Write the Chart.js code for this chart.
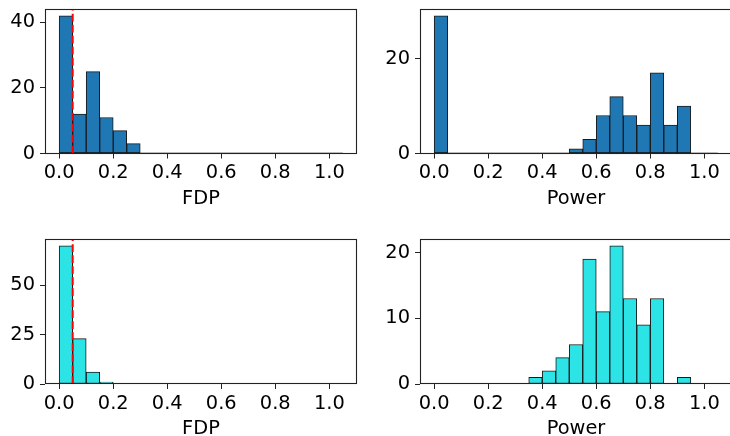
<!DOCTYPE html>
<html>
<head>
<meta charset="utf-8">
<script src="https://cdn.jsdelivr.net/npm/chart.js@4.4.0/dist/chart.umd.min.js"></script>
<style>
  html, body { margin: 0; padding: 0; background: #fff; overflow: hidden; }
  #wrap { position: relative; width: 730px; height: 436px; overflow: hidden; }
  #wrap canvas { position: absolute; left: 0; top: 0; }
</style>
</head>
<body>
<div id="wrap">
  <canvas id="fdpTop" width="734" height="436"></canvas>
  <canvas id="powerTop" width="734" height="436"></canvas>
  <canvas id="fdpBottom" width="734" height="436"></canvas>
  <canvas id="powerBottom" width="734" height="436"></canvas>
</div>
<script>
// histogram bins (left edges), width 0.05
var binLeft = [0, 0.05, 0.1, 0.15, 0.2, 0.25, 0.3, 0.35, 0.4, 0.45, 0.5,
               0.55, 0.6, 0.65, 0.7, 0.75, 0.8, 0.85, 0.9, 0.95, 1.0];
var binWidth = 0.05;
var xTicks = [0, 0.2, 0.4, 0.6, 0.8, 1.0];
var fdpLevel = 0.05;

// counts per bin
var fdpTopCounts      = [42, 12, 25, 11, 7, 3, 0, 0, 0, 0, 0, 0, 0, 0, 0, 0, 0, 0, 0, 0, 0];
var powerTopCounts    = [29, 0, 0, 0, 0, 0, 0, 0, 0, 0, 1, 3, 8, 12, 8, 6, 17, 6, 10, 0, 0];
var fdpBottomCounts   = [70, 23, 6, 1, 0, 0, 0, 0, 0, 0, 0, 0, 0, 0, 0, 0, 0, 0, 0, 0, 0];
var powerBottomCounts = [0, 0, 0, 0, 0, 0, 0, 1, 2, 4, 6, 19, 11, 21, 13, 9, 13, 0, 1, 0, 0];

var yTicksFdpTop = [0, 20, 40];
var yTicksPowerTop = [0, 20];
var yTicksFdpBottom = [0, 25, 50];
var yTicksPowerBottom = [0, 10, 20];

var FONT = { family: "'DejaVu Sans', sans-serif", size: 19.4 };
var CW = 734, CH = 436;
var Y_W = 45, X_H = 60;

var framePlugin = {
	id: 'frame',
	afterDatasetsDraw: function(chart) {
		var a = chart.chartArea, ctx = chart.ctx;
		var l = Math.round(a.left) + 0.5, t = Math.round(a.top) + 0.5;
		var r = Math.round(a.right) - 0.5, b = Math.round(a.bottom) - 0.5;
		ctx.save();
		ctx.strokeStyle = '#222';
		ctx.lineWidth = 1.1;
		ctx.strokeRect(l, t, r - l, b - t);
		ctx.restore();
	}
};

function axisCommon(ticks) {
	return {
		offset: false,
		afterBuildTicks: function(s) { s.ticks = ticks.map(function(v) { return { value: v }; }); },
		grid: { offset: false, drawOnChartArea: false, drawTicks: true, tickLength: 5, color: '#222', lineWidth: 1 },
		border: { display: false },
		ticks: { color: '#000', font: FONT, autoSkip: false, maxRotation: 0 }
	};
}

function makePanel(id, counts, color, yTicks, xTitle, box, showLevel) {
	var yMax = Math.max.apply(null, counts) * 1.05;
	var bars = binLeft.map(function(x0, i) { return { x: x0 + binWidth / 2, y: counts[i] }; });
	var datasets = [];

	if (showLevel) {
		datasets.push({
			type: 'line', order: 0,
			data: [{ x: fdpLevel, y: 0 }, { x: fdpLevel, y: yMax }],
			borderColor: '#ff0000', borderWidth: 2, borderDash: [7.7, 3.3],
			pointRadius: 0, fill: false
		});
	}
	// zero-height bins still show their edge along the baseline
	datasets.push({
		type: 'line', order: 1,
		data: [{ x: binLeft[0], y: 0 }, { x: binLeft[binLeft.length - 1] + binWidth, y: 0 }],
		borderColor: '#111', borderWidth: 1.4, pointRadius: 0, fill: false
	});
	datasets.push({
		type: 'bar', order: 2,
		data: bars,
		backgroundColor: color, borderColor: '#1a1a1a', borderWidth: 1,
		borderSkipped: false, barPercentage: 1, categoryPercentage: 1
	});

	var x = axisCommon(xTicks);
	x.type = 'linear';
	x.min = -0.0525;
	x.max = 1.1025;
	x.afterFit = function(s) { s.height = X_H; s.paddingLeft = 0; s.paddingRight = 0; };
	x.ticks.padding = 3;
	x.ticks.callback = function(v) { return Number(v).toFixed(1); };
	x.title = { display: true, text: xTitle, color: '#000', font: FONT, padding: { top: 0, bottom: 3 } };

	var y = axisCommon(yTicks);
	y.type = 'linear';
	y.min = 0;
	y.max = yMax;
	y.afterFit = function(s) { s.width = Y_W; s.paddingTop = 0; s.paddingBottom = 0; };
	y.ticks.padding = 5;

	return new Chart(document.getElementById(id), {
		type: 'bar',
		data: { datasets: datasets },
		plugins: [framePlugin],
		options: {
			responsive: false,
			animation: false,
			devicePixelRatio: 1,
			layout: { padding: { left: box[0] - Y_W, top: box[1], right: CW - box[2], bottom: CH - box[3] - X_H } },
			plugins: { legend: { display: false }, tooltip: { enabled: false } },
			scales: { x: x, y: y }
		}
	});
}

makePanel('fdpTop', fdpTopCounts, '#1f77b4', yTicksFdpTop, 'FDP', [45, 9, 357, 153.5], true);
makePanel('powerTop', powerTopCounts, '#1f77b4', yTicksPowerTop, 'Power', [420, 9, 732, 153.5], false);
makePanel('fdpBottom', fdpBottomCounts, '#2ce3e6', yTicksFdpBottom, 'FDP', [45, 239, 357, 384], true);
makePanel('powerBottom', powerBottomCounts, '#2ce3e6', yTicksPowerBottom, 'Power', [420, 239, 732, 384], false);
</script>
</body>
</html>
